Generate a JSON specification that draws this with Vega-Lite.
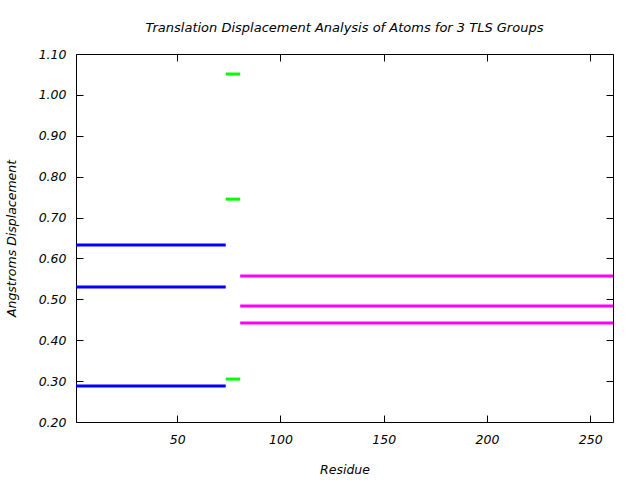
{
  "$schema": "https://vega.github.io/schema/vega-lite/v6.json",
  "width": 537,
  "height": 368,
  "autosize": {"type": "none"},
  "padding": {"left": 76, "top": 54, "right": 27, "bottom": 58},
  "background": "white",
  "title": {"text": "Translation Displacement Analysis of Atoms for 3 TLS Groups", "font": "DejaVu Sans", "fontStyle": "italic", "fontWeight": "normal", "fontSize": 13, "offset": 13, "anchor": "middle", "color": "black"},
  "config": {
    "view": {"stroke": "black", "strokeWidth": 1},
    "axis": {"labelFont": "DejaVu Sans", "labelFontStyle": "italic", "labelFontSize": 12.5, "labelColor": "black", "titleFont": "DejaVu Sans", "titleFontStyle": "italic", "titleFontWeight": "normal", "titleFontSize": 12.5, "titleColor": "black", "domain": false, "grid": false, "tickColor": "black", "tickSize": -7, "tickWidth": 1}
  },
  "data": {"values": [
    {"group": "1", "start": 1, "end": 73.5, "disp": 0.633},
    {"group": "1", "start": 1, "end": 73.5, "disp": 0.530},
    {"group": "1", "start": 1, "end": 73.5, "disp": 0.288},
    {"group": "2", "start": 73.5, "end": 80.5, "disp": 1.051},
    {"group": "2", "start": 73.5, "end": 80.5, "disp": 0.745},
    {"group": "2", "start": 73.5, "end": 80.5, "disp": 0.305},
    {"group": "3", "start": 80.5, "end": 261, "disp": 0.557},
    {"group": "3", "start": 80.5, "end": 261, "disp": 0.484},
    {"group": "3", "start": 80.5, "end": 261, "disp": 0.442}
  ]},
  "resolve": {"axis": {"x": "independent", "y": "independent"}},
  "layer": [
    {
      "mark": {"type": "rule", "strokeWidth": 3, "strokeCap": "butt"},
      "encoding": {
        "x": {"field": "start", "type": "quantitative", "scale": {"domain": [1, 261], "nice": false, "zero": false}, "axis": {"orient": "bottom", "values": [50, 100, 150, 200, 250], "title": "Residue", "labelPadding": 18, "titlePadding": 18}},
        "x2": {"field": "end"},
        "y": {"field": "disp", "type": "quantitative", "scale": {"domain": [0.2, 1.1], "nice": false, "zero": false}, "axis": {"orient": "left", "values": [0.2, 0.3, 0.4, 0.5, 0.6, 0.7, 0.8, 0.9, 1.0, 1.1], "format": ".2f", "title": "Angstroms Displacement", "labelPadding": 17, "titlePadding": 20}},
        "color": {"field": "group", "type": "nominal", "scale": {"domain": ["1", "2", "3"], "range": ["#0000ff", "#00ff00", "#ff00ff"]}, "legend": null}
      }
    },
    {
      "mark": {"type": "rule", "opacity": 0},
      "encoding": {
        "x": {"field": "start", "type": "quantitative", "axis": {"orient": "top", "values": [50, 100, 150, 200, 250], "labels": false, "title": null}},
        "x2": {"field": "end"},
        "y": {"field": "disp", "type": "quantitative", "axis": {"orient": "right", "values": [0.2, 0.3, 0.4, 0.5, 0.6, 0.7, 0.8, 0.9, 1.0, 1.1], "labels": false, "title": null}}
      }
    }
  ]
}
